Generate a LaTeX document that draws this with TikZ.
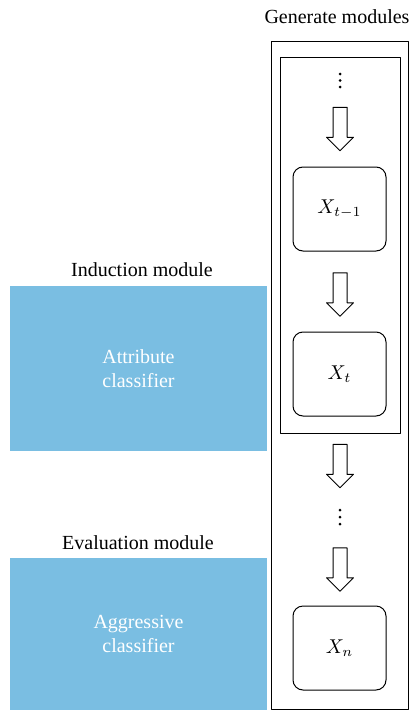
\documentclass[tikz,border=0pt]{standalone}
\usepackage{fontspec}
\setmainfont{Liberation Serif}
\usetikzlibrary{shapes.arrows}
\definecolor{modblue}{RGB}{122,190,226}
\tikzset{
	genbox/.style={draw, rounded corners=5pt, minimum width=46.5pt, minimum height=42pt, inner sep=0pt},
	clsbox/.style={fill=modblue, text=white, minimum width=128.5pt, align=center, inner sep=0pt},
	downarrow/.style={draw, single arrow, rotate=-90, minimum height=21.75pt,
		single arrow head extend=3.25pt, inner xsep=0pt, inner ysep=3.25pt}
}
\begin{document}
\begin{tikzpicture}[x=0.5pt, y=-0.5pt, line width=0.5pt, line join=round, line cap=round]
	\useasboundingbox (0,0) rectangle (418,712);
	% generate modules
	\draw (271,41) rectangle (408,709.5);
	\draw (280,57) rectangle (400.5,433);
	\node (gen) at (337,17) {Generate modules};
	\foreach \y in {74,80.5,87} \fill (340,\y) circle (0.75pt);
	\foreach \y in {510,517,524} \fill (340,\y) circle (0.75pt);
	\node[downarrow] (arA) at (340,125.5) {};
	\node[genbox] (xprev) at (339.5,209) {$X_{t-1}$};
	\node[downarrow] (arB) at (340,291) {};
	\node[genbox] (xcur) at (339.5,374) {$X_t$};
	\node[downarrow] (arC) at (340,462.5) {};
	\node[downarrow] (arD) at (340,566) {};
	\node[genbox] (xlast) at (339.5,648) {$X_n$};
	% classifiers
	\node (indlab) at (142,270) {Induction module};
	\node[clsbox, minimum height=82.5pt] (attr) at (138.5,368.5) {Attribute\\classifier};
	\node (evallab) at (138,543) {Evaluation module};
	\node[clsbox, minimum height=76pt] (aggr) at (138.5,634) {Aggressive\\classifier};
\end{tikzpicture}
\end{document}
